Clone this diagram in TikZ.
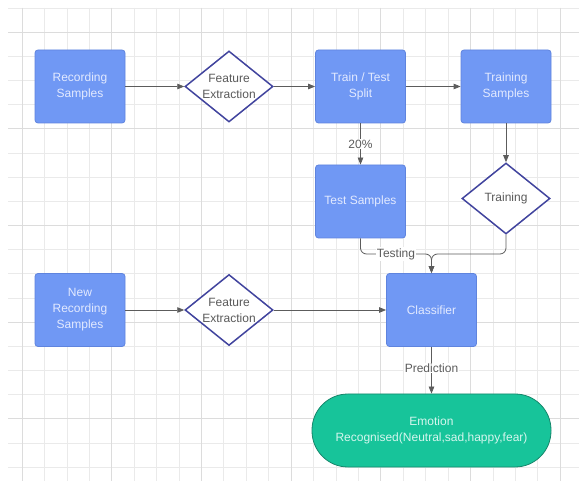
\documentclass[tikz,border=0pt]{standalone}
\usepackage{fontspec}
\setmainfont{Liberation Sans}
\usetikzlibrary{shapes.geometric,arrows.meta}
\definecolor{gridc}{HTML}{EAEAEA}
\definecolor{gridm}{HTML}{DCDCDC}
\definecolor{boxfill}{HTML}{7098F4}
\definecolor{boxdraw}{HTML}{5F84DE}
\definecolor{boxtext}{HTML}{E3EAFF}
\definecolor{diadraw}{HTML}{41449E}
\definecolor{diatext}{HTML}{5A5A5A}
\definecolor{linec}{HTML}{5C5C5C}
\definecolor{emofill}{HTML}{17C49A}
\definecolor{emodraw}{HTML}{16866B}
\definecolor{emotext}{HTML}{D5F6EE}
\begin{document}
\begin{tikzpicture}[x=1pt,y=-1pt,
  basefont/.style={font=\fontsize{12}{16}\selectfont},
  procbox/.style={basefont, rectangle, rounded corners=3pt, fill=boxfill, draw=boxdraw, line width=0.8pt,
    minimum width=90pt, minimum height=73pt, text=boxtext, align=center, inner sep=0pt},
  decbox/.style={diamond, draw=diadraw, fill=white, line width=1.5pt,
    minimum width=88pt, minimum height=71pt, inner sep=0pt},
  dectext/.style={basefont, text=diatext, align=center},
  emobox/.style={basefont, rectangle, rounded corners=36pt, fill=emofill, draw=emodraw, line width=0.8pt,
    minimum width=239pt, minimum height=73pt, text=emotext, align=center, inner sep=0pt},
  conn/.style={draw=linec, line width=0.8pt, -{Triangle[length=7pt,width=5.5pt]}},
  lbl/.style={basefont, fill=white, text=linec, inner sep=1pt}
]
\useasboundingbox (0,0) rectangle (579,481);
\fill[white] (0,0) rectangle (579,481);
% grid
\foreach \k in {0,...,24} {
  \draw[gridc, line width=0.6pt] ({22+22.42*\k},8) -- ({22+22.42*\k},481);
}
\foreach \k in {0,...,19} {
  \draw[gridc, line width=0.6pt] (8,{8+24.16*\k}) -- (579,{8+24.16*\k});
}
\foreach \k in {0,4,...,24} {
  \draw[gridm, line width=0.6pt] ({22+22.42*\k},8) -- ({22+22.42*\k},481);
}
\foreach \k in {1,5,...,17} {
  \draw[gridm, line width=0.6pt] (8,{8+24.16*\k}) -- (579,{8+24.16*\k});
}
% nodes
\node[procbox] (rs) at (80,86.5) {Recording\\Samples};
\node[decbox, label={[dectext]center:Feature\\Extraction}] (fe1) at (229,86.5) {};
\node[procbox] (tts) at (360.5,86.5) {Train / Test\\Split};
\node[procbox] (trs) at (506,86.5) {Training\\Samples};
\node[procbox] (ts) at (360.5,201.5) {Test Samples};
\node[decbox, label={[dectext]center:Training}] (trd) at (506,198.5) {};
\node[procbox] (cls) at (431.5,310) {Classifier};
\node[procbox] (nrs) at (80,310) {New\\Recording\\Samples};
\node[decbox, label={[dectext]center:Feature\\Extraction}] (fe2) at (229,310) {};
\node[emobox] (emo) at (431.5,430.5) {Emotion\\Recognised(Neutral,sad,happy,fear)};
\coordinate (join) at (431.5,254);
% connectors
\draw[conn] (rs) -- (fe1);
\draw[conn] (fe1) -- (tts);
\draw[conn] (tts) -- (trs);
\draw[conn] (tts) -- node[lbl] (pct) {20\%} (ts);
\draw[conn] (trs) -- (trd);
\draw[conn, rounded corners=6pt] (ts.south) |- (join) -- (cls.north);
\draw[conn, rounded corners=6pt] (trd.south) |- (join) -- (cls.north);
\node[lbl] (testlbl) at (396,254) {Testing};
\draw[conn] (nrs) -- (fe2);
\draw[conn] (fe2) -- (cls);
\draw[conn] (cls) -- node[lbl, pos=0.45] (predlbl) {Prediction} (emo);
\end{tikzpicture}
\end{document}
